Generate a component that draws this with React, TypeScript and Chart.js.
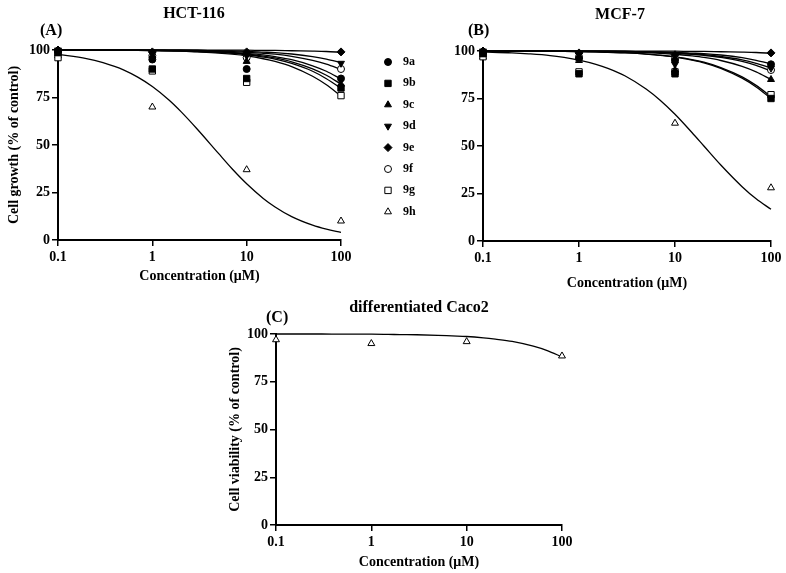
import React, { useEffect, useRef } from 'react';
import { Chart, registerables } from 'chart.js';
import { drawPoint } from 'chart.js/helpers';

Chart.register(...registerables);
Chart.defaults.font.family = "'Liberation Serif', 'Times New Roman', serif";
Chart.defaults.font.weight = 'bold';
Chart.defaults.color = '#000';

// ---------- data ----------
const seriesNames = ['9a', '9b', '9c', '9d', '9e', '9f', '9g', '9h'];
const concentrations = [0.1, 1, 10, 100];
const xTickValues = [0.1, 1, 10, 100];
const yTickValues = [0, 25, 50, 75, 100];
const curveConcentrations = [0.1, 0.2, 0.3, 0.5, 0.7, 1, 1.5, 2, 3, 5, 7, 10, 15, 20, 30, 50, 70, 100];

// HCT-116 measured points (% of control)
const hct9a = [99, 95, 90, 85];
const hct9b = [99, 90, 85, 80];
const hct9c = [98, 97, 94, 82];
const hct9d = [100, 98, 97, 93];
const hct9e = [100, 99, 99, 99];
const hct9f = [99, 97, 96, 90];
const hct9g = [96, 89, 83, 76];
const hct9h = [97, 70, 37, 10];

// HCT-116 fitted curves read at curveConcentrations
const hctCurve9a = [100, 100, 99.9, 99.9, 99.9, 99.8, 99.7, 99.6, 99.5, 99.1, 98.7, 98.2, 97.4, 96.5, 94.9, 91.7, 88.8, 84.7];
const hctCurve9b = [100, 99.9, 99.9, 99.9, 99.8, 99.7, 99.6, 99.5, 99.2, 98.7, 98.3, 97.5, 96.3, 95.2, 92.9, 88.8, 84.9, 79.8];
const hctCurve9c = [100, 100, 99.9, 99.9, 99.8, 99.8, 99.7, 99.6, 99.3, 98.9, 98.5, 97.9, 96.8, 95.8, 93.8, 90.1, 86.7, 82.0];
const hctCurve9d = [100, 100, 100, 100, 99.9, 99.9, 99.9, 99.9, 99.8, 99.6, 99.5, 99.3, 98.9, 98.6, 97.9, 96.5, 95.2, 93.3];
const hctCurve9e = [100, 100, 100, 100, 100, 100, 100, 100, 100, 99.9, 99.9, 99.9, 99.8, 99.8, 99.6, 99.4, 99.2, 98.8];
const hctCurve9f = [100, 100, 100, 99.9, 99.9, 99.9, 99.8, 99.8, 99.7, 99.4, 99.2, 98.9, 98.3, 97.8, 96.7, 94.6, 92.6, 89.8];
const hctCurve9g = [100, 99.9, 99.9, 99.8, 99.8, 99.7, 99.5, 99.4, 99.0, 98.4, 97.8, 96.9, 95.4, 94.0, 91.3, 86.2, 81.7, 75.8];
const hctCurve9h = [97.7, 95.5, 93.3, 89.4, 85.7, 80.8, 73.7, 67.7, 58.3, 45.7, 37.5, 29.6, 21.9, 17.4, 12.3, 7.8, 5.7, 4.0];

// MCF-7 measured points
const mcf9a = [99, 96, 95, 93];
const mcf9b = [99, 88, 88, 75];
const mcf9c = [98, 97, 90, 85];
const mcf9d = [100, 98, 93, 91];
const mcf9e = [100, 99, 98, 99];
const mcf9f = [99, 97, 96, 90];
const mcf9g = [97, 89, 89, 77];
const mcf9h = [97, 95, 62, 28];

// MCF-7 fitted curves
const mcfCurve9a = [100, 100, 100, 100, 99.9, 99.9, 99.9, 99.9, 99.8, 99.6, 99.5, 99.3, 98.9, 98.6, 97.9, 96.5, 95.1, 93.2];
const mcfCurve9b = [100, 99.9, 99.9, 99.8, 99.8, 99.7, 99.5, 99.3, 99.0, 98.4, 97.7, 96.8, 95.2, 93.8, 90.9, 85.7, 81.1, 75.0];
const mcfCurve9c = [100, 100, 99.9, 99.9, 99.9, 99.8, 99.7, 99.6, 99.5, 99.1, 98.8, 98.3, 97.4, 96.6, 95.0, 91.9, 89.0, 85.0];
const mcfCurve9d = [100, 100, 100, 100, 99.9, 99.9, 99.9, 99.8, 99.7, 99.5, 99.3, 99.0, 98.5, 98.1, 97.1, 95.3, 93.5, 91.0];
const mcfCurve9e = [100, 100, 100, 100, 100, 100, 100, 100, 100, 99.9, 99.9, 99.9, 99.8, 99.8, 99.6, 99.4, 99.2, 98.8];
const mcfCurve9f = [100, 100, 100, 99.9, 99.9, 99.9, 99.8, 99.8, 99.6, 99.4, 99.2, 98.8, 98.3, 97.7, 96.6, 94.5, 92.4, 89.5];
const mcfCurve9g = [100, 99.9, 99.9, 99.8, 99.8, 99.7, 99.5, 99.4, 99.1, 98.4, 97.8, 96.9, 95.5, 94.1, 91.3, 86.4, 81.9, 76.0];
const mcfCurve9h = [99.5, 99.0, 98.5, 97.6, 96.6, 95.2, 93.0, 90.9, 87.0, 80.0, 74.1, 66.7, 57.1, 50.0, 40.0, 28.6, 22.2, 16.7];

// differentiated Caco2 (9h)
const caco9h = [97, 95, 96, 88.5];
const cacoCurve9h = [100, 100, 100, 99.9, 99.9, 99.9, 99.8, 99.7, 99.6, 99.3, 99.0, 98.7, 98.0, 97.3, 96.1, 93.6, 91.3, 88.0];

// ---------- styles ----------
const markerStyles = [
  { pointStyle: 'circle', rotation: 0, filled: true, radius: 3.5 },
  { pointStyle: 'rect', rotation: 0, filled: true, radius: 4.5 },
  { pointStyle: 'triangle', rotation: 0, filled: true, radius: 4 },
  { pointStyle: 'triangle', rotation: 180, filled: true, radius: 4 },
  { pointStyle: 'rectRot', rotation: 0, filled: true, radius: 4 },
  { pointStyle: 'circle', rotation: 0, filled: false, radius: 3.5 },
  { pointStyle: 'rect', rotation: 0, filled: false, radius: 4.5 },
  { pointStyle: 'triangle', rotation: 0, filled: false, radius: 4 },
];

function buildDatasets(points: number[][], curves: number[][], styleIdx: number[]) {
  const ds: any[] = [];
  points.forEach((pts, i) => {
    const st = markerStyles[styleIdx[i]];
    ds.push({
      label: seriesNames[styleIdx[i]],
      data: concentrations.map((x, j) => ({ x, y: pts[j] })),
      showLine: false,
      pointStyle: st.pointStyle,
      rotation: st.rotation,
      pointRadius: st.radius,
      backgroundColor: st.filled ? '#000' : '#fff',
      borderColor: '#000',
      borderWidth: 1,
      clip: false,
      order: 0,
    });
  });
  curves.forEach((c) => {
    ds.push({
      label: '',
      data: curveConcentrations.map((x, j) => ({ x, y: c[j] })),
      showLine: true,
      pointRadius: 0,
      borderColor: '#000',
      borderWidth: 1.3,
      cubicInterpolationMode: 'monotone',
      fill: false,
      clip: false,
      order: 1,
    });
  });
  return ds;
}

const panelTextPlugin = {
  id: 'panelText',
  afterDraw(chart: any, _args: any, opts: any) {
    const ctx = chart.ctx;
    ctx.save();
    ctx.fillStyle = '#000';
    ctx.textBaseline = 'middle';
    ctx.font = "bold 16px 'Liberation Serif', serif";
    ctx.textAlign = 'center';
    ctx.fillText(opts.title, opts.titleX, opts.titleY);
    ctx.textAlign = 'left';
    ctx.fillText(opts.tag, opts.tagX, opts.tagY);
    ctx.restore();
  },
};

const seriesKeyPlugin = {
  id: 'seriesKey',
  afterDraw(chart: any, _args: any, opts: any) {
    if (!opts || !opts.show) return;
    const ctx = chart.ctx;
    ctx.save();
    seriesNames.forEach((name, i) => {
      const st = markerStyles[i];
      const y = opts.y0 + i * opts.dy;
      ctx.fillStyle = st.filled ? '#000' : '#fff';
      ctx.strokeStyle = '#000';
      ctx.lineWidth = 1;
      drawPoint(ctx, { pointStyle: st.pointStyle, rotation: st.rotation, radius: st.radius, borderWidth: 1 } as any, opts.markerX, y);
      ctx.fillStyle = '#000';
      ctx.font = "bold 12px 'Liberation Serif', serif";
      ctx.textAlign = 'left';
      ctx.textBaseline = 'middle';
      ctx.fillText(name, opts.textX, y);
    });
    ctx.restore();
  },
};

function makeConfig(p: any) {
  const tickFont = { size: 14, weight: 'bold' as const };
  const titleFont = { size: 14, weight: 'bold' as const };
  const grid = { drawOnChartArea: false, drawTicks: true, tickLength: 6, color: '#000', lineWidth: 1.5 };
  const border = { color: '#000', width: 2 };
  return {
    type: 'scatter' as const,
    data: { datasets: buildDatasets(p.points, p.curves, p.styleIdx) },
    options: {
      responsive: false,
      animation: false,
      events: [],
      layout: { padding: p.padding },
      scales: {
        x: {
          type: 'logarithmic',
          min: 0.1,
          max: 100,
          afterBuildTicks: (s: any) => { s.ticks = xTickValues.map((v) => ({ value: v })); },
          afterFit: (s: any) => { s.height = p.xHeight; },
          ticks: { callback: (v: any) => String(v), font: tickFont, color: '#000', padding: 3, maxRotation: 0, autoSkip: false },
          grid, border,
          title: { display: true, text: 'Concentration (μM)', font: titleFont, color: '#000', padding: 0 },
        },
        y: {
          type: 'linear',
          min: 0,
          max: 100,
          afterBuildTicks: (s: any) => { s.ticks = yTickValues.map((v) => ({ value: v })); },
          afterFit: (s: any) => { s.width = p.yWidth; },
          ticks: { font: tickFont, color: '#000', padding: 2 },
          grid, border,
          title: { display: !!p.yTitle, text: p.yTitle || '', font: titleFont, color: '#000', padding: 0 },
        },
      },
      plugins: {
        legend: { display: false },
        tooltip: { enabled: false },
        panelText: p.text,
        seriesKey: p.key || { show: false },
      },
    },
    plugins: [panelTextPlugin, seriesKeyPlugin],
  };
}

function Panel(props: { left: number; top: number; width: number; height: number; config: any }) {
  const ref = useRef<HTMLCanvasElement>(null);
  useEffect(() => {
    const chart = new Chart(ref.current as HTMLCanvasElement, props.config as any);
    return () => chart.destroy();
  }, []);
  return (
    <canvas
      ref={ref}
      width={props.width}
      height={props.height}
      style={{ position: 'absolute', left: props.left, top: props.top, width: props.width, height: props.height }}
    />
  );
}

const allIdx = [0, 1, 2, 3, 4, 5, 6, 7];

const configA = makeConfig({
  points: [hct9a, hct9b, hct9c, hct9d, hct9e, hct9f, hct9g, hct9h],
  curves: [hctCurve9a, hctCurve9b, hctCurve9c, hctCurve9d, hctCurve9e, hctCurve9f, hctCurve9g, hctCurve9h],
  styleIdx: allIdx,
  padding: { left: 6, top: 50, right: 89, bottom: 15 },
  yWidth: 52,
  xHeight: 45,
  yTitle: 'Cell growth (% of control)',
  text: { title: 'HCT-116', titleX: 194, titleY: 14, tag: '(A)', tagX: 40, tagY: 31 },
  key: { show: true, markerX: 388, textX: 403, y0: 62, dy: 21.4 },
});

const configB = makeConfig({
  points: [mcf9a, mcf9b, mcf9c, mcf9d, mcf9e, mcf9f, mcf9g, mcf9h],
  curves: [mcfCurve9a, mcfCurve9b, mcfCurve9c, mcfCurve9d, mcfCurve9e, mcfCurve9f, mcfCurve9g, mcfCurve9h],
  styleIdx: allIdx,
  padding: { left: 0, top: 51, right: 15, bottom: 8.6 },
  yWidth: 53,
  xHeight: 50.4,
  yTitle: '',
  text: { title: 'MCF-7', titleX: 190, titleY: 15, tag: '(B)', tagX: 38, tagY: 31 },
});

const configC = makeConfig({
  points: [caco9h],
  curves: [cacoCurve9h],
  styleIdx: [7],
  padding: { left: 46.6, top: 44, right: 38, bottom: 2.6 },
  yWidth: 49.4,
  xHeight: 45.4,
  yTitle: 'Cell viability (% of control)',
  text: { title: 'differentiated Caco2', titleX: 239, titleY: 18, tag: '(C)', tagX: 86, tagY: 28 },
});

export default function App() {
  return (
    <div style={{ position: 'absolute', left: 0, top: 0, width: 786, height: 573, background: '#fff' }}>
      <Panel left={0} top={0} width={430} height={300} config={configA} />
      <Panel left={430} top={0} width={356} height={300} config={configB} />
      <Panel left={180} top={290} width={420} height={283} config={configC} />
    </div>
  );
}
